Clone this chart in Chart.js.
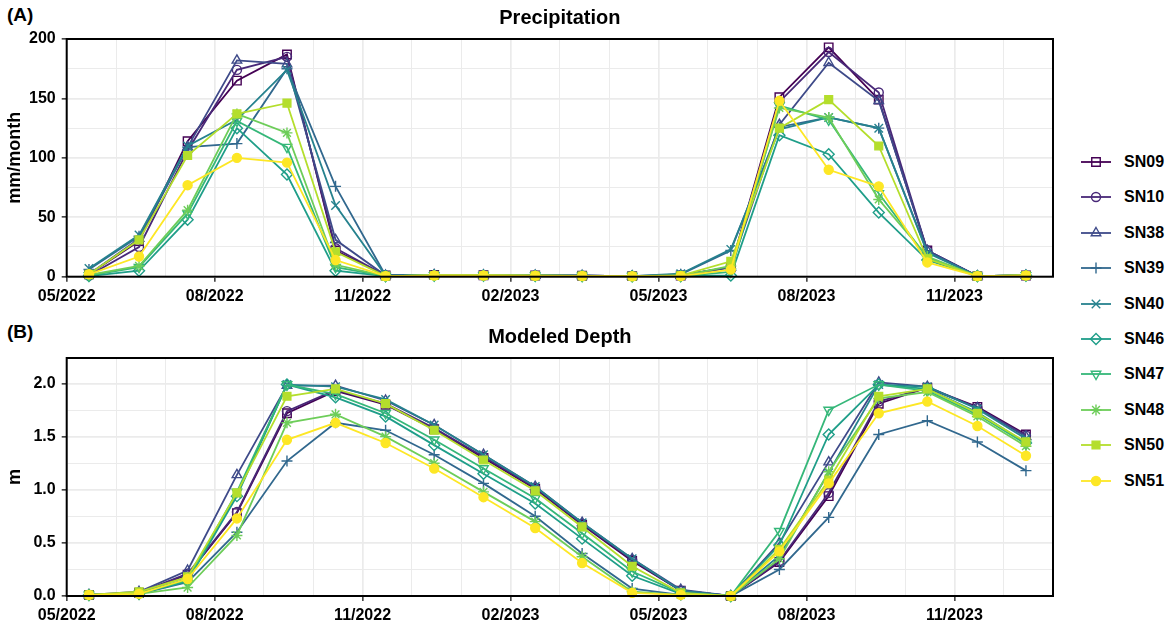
<!DOCTYPE html>
<html>
<head>
<meta charset="utf-8">
<script src="https://cdn.jsdelivr.net/npm/chart.js@4.4.1/dist/chart.umd.min.js"></script>
<style>
  html, body { margin: 0; padding: 0; background: #fff; }
  body { width: 1169px; height: 625px; position: relative; overflow: hidden;
         font-family: "Liberation Sans", Arial, sans-serif; }
  .panel { position: absolute; left: 0; }
  .tag { position: absolute; left: 7px; font-weight: bold; font-size: 19px; line-height: 22px; color: #000; }
  .legend-row { position: absolute; left: 1081px; width: 88px; height: 20px; }
  .legend-row canvas { position: absolute; left: 0; top: 0; }
  .legend-row span { position: absolute; left: 43px; top: 0; font-weight: bold; font-size: 16px;
                     line-height: 20px; color: #000; white-space: nowrap; }
</style>
</head>
<body>
<div class="tag" style="top:4px">(A)</div>
<div class="tag" style="top:321px">(B)</div>
<canvas id="precip" class="panel" style="top:0" width="1060" height="310"></canvas>
<canvas id="depth" class="panel" style="top:310px" width="1060" height="315"></canvas>
<div id="legend"></div>
<script>
// station names and months (points sit mid-month)
const stations = ['SN09', 'SN10', 'SN38', 'SN39', 'SN40', 'SN46', 'SN47', 'SN48', 'SN50', 'SN51'];
const months = ['2022-05-15', '2022-06-15', '2022-07-15', '2022-08-15', '2022-09-15', '2022-10-15',
                '2022-11-15', '2022-12-15', '2023-01-15', '2023-02-15', '2023-03-15', '2023-04-15',
                '2023-05-15', '2023-06-15', '2023-07-15', '2023-08-15', '2023-09-15', '2023-10-15',
                '2023-11-15', '2023-12-15'];
const dateTicks = ['05/2022', '08/2022', '11/2022', '02/2023', '05/2023', '08/2023', '11/2023'];

// precipitation, mm/month
const pSN09 = [2, 30, 114, 165, 187, 22, 1, 1.5, 1.2, 1, 0.8, 0.5, 1, 8, 151, 193, 149, 22, 0.5, 1];
const pSN10 = [1, 25, 106, 174, 185, 24, 1, 1.5, 1.2, 1, 0.8, 0.5, 1, 8, 147, 189, 155, 22, 0.5, 1];
const pSN38 = [2, 32, 109, 182, 179, 31, 1, 1.5, 1.2, 1, 0.8, 0.5, 1, 8, 128, 180, 148, 22, 0.5, 1];
const pSN39 = [6, 34, 109, 112, 175, 76, 1, 1.5, 1.2, 1, 0.8, 0.5, 2, 22, 126, 134, 125, 21, 0.5, 1];
const pSN40 = [7, 35, 110, 132, 174, 60, 1, 1.5, 1.2, 1, 0.8, 0.5, 2.5, 23, 124, 134, 125, 20, 0.5, 1];
const pSN46 = [0.5, 5, 48, 125, 86, 5, 0.5, 1, 1, 0.8, 0.6, 0.4, 0.5, 1, 119, 103, 54, 14, 0.5, 1];
const pSN47 = [1, 8, 53, 131, 109, 8, 0.5, 1, 1, 0.8, 0.6, 0.4, 0.5, 4, 144, 132, 70, 16, 0.5, 1];
const pSN48 = [1.5, 9, 56, 137, 121, 10, 0.5, 1, 1, 0.8, 0.6, 0.4, 0.5, 9, 142, 134, 65, 17, 0.5, 1];
const pSN50 = [2, 31, 102, 137, 146, 21, 0.5, 1, 1, 0.8, 0.6, 0.4, 1, 13, 125, 149, 110, 15, 0.5, 1];
const pSN51 = [2, 17, 77, 100, 96, 14, 0.5, 1, 1, 0.8, 0.6, 0.4, 0.5, 6, 148, 90, 76, 12, 0.5, 1];

// modeled depth, m
const dSN09 = [0.01, 0.03, 0.20, 0.78, 1.72, 1.93, 1.80, 1.57, 1.30, 1.01, 0.67, 0.33, 0.05, 0.00, 0.32, 0.94, 1.81, 1.96, 1.78, 1.52];
const dSN10 = [0.01, 0.03, 0.21, 0.79, 1.74, 1.94, 1.81, 1.58, 1.31, 1.02, 0.68, 0.34, 0.05, 0.00, 0.33, 0.97, 1.83, 1.96, 1.77, 1.51];
const dSN38 = [0.01, 0.04, 0.24, 1.14, 1.98, 1.98, 1.84, 1.61, 1.33, 1.03, 0.69, 0.35, 0.06, 0.00, 0.50, 1.26, 2.01, 1.97, 1.77, 1.50];
const dSN39 = [0.01, 0.02, 0.13, 0.60, 1.27, 1.63, 1.56, 1.33, 1.06, 0.75, 0.40, 0.07, 0.01, 0.00, 0.25, 0.74, 1.52, 1.65, 1.45, 1.18];
const dSN40 = [0.01, 0.03, 0.16, 0.96, 1.99, 1.97, 1.85, 1.61, 1.33, 1.03, 0.69, 0.35, 0.05, 0.00, 0.38, 1.16, 1.99, 1.97, 1.76, 1.48];
const dSN46 = [0.01, 0.02, 0.14, 0.94, 1.99, 1.87, 1.69, 1.42, 1.15, 0.87, 0.54, 0.19, 0.02, 0.00, 0.48, 1.52, 1.99, 1.95, 1.73, 1.44];
const dSN47 = [0.01, 0.02, 0.15, 0.98, 1.99, 1.90, 1.72, 1.47, 1.20, 0.92, 0.59, 0.23, 0.03, 0.00, 0.61, 1.75, 1.99, 1.93, 1.71, 1.43];
const dSN48 = [0.01, 0.02, 0.08, 0.57, 1.63, 1.71, 1.50, 1.25, 0.98, 0.70, 0.37, 0.04, 0.01, 0.00, 0.35, 1.17, 1.86, 1.92, 1.69, 1.41];
const dSN50 = [0.01, 0.04, 0.18, 0.97, 1.88, 1.95, 1.81, 1.56, 1.28, 0.99, 0.65, 0.28, 0.03, 0.00, 0.44, 1.09, 1.88, 1.95, 1.72, 1.45];
const dSN51 = [0.01, 0.02, 0.16, 0.73, 1.47, 1.63, 1.44, 1.20, 0.93, 0.64, 0.31, 0.03, 0.01, 0.00, 0.42, 1.06, 1.72, 1.83, 1.60, 1.32];

const precipSeries = [pSN09, pSN10, pSN38, pSN39, pSN40, pSN46, pSN47, pSN48, pSN50, pSN51];
const depthSeries = [dSN09, dSN10, dSN38, dSN39, dSN40, dSN46, dSN47, dSN48, dSN50, dSN51];

// viridis(10) and ggplot-like shapes
const colors = ['#440154', '#482878', '#3E4A89', '#31688E', '#26828E',
                '#1F9E89', '#35B779', '#6DCD59', '#B4DE2C', '#FDE725'];
const markers = [
  {style: 'rect', r: 6, fill: false},
  {style: 'circle', r: 4.5, fill: false},
  {style: 'triangle', r: 5.5, fill: false},
  {style: 'cross', r: 5.5, fill: false},
  {style: 'crossRot', r: 6, fill: false},
  {style: 'rectRot', r: 5.5, fill: false},
  {style: 'triangle', r: 5.5, rot: 180, fill: false},
  {style: 'star', r: 5.5, fill: false},
  {style: 'rect', r: 5.5, fill: true},
  {style: 'circle', r: 4.5, fill: true}
];

const FONT = '"Liberation Sans", Arial, sans-serif';
const GRID = '#ebebeb';

// months since 2022-05-01, so month starts are integers on the x axis
function monthPos(s) {
  const [y, m, d] = s.split('-').map(Number);
  const days = new Date(y, m, 0).getDate();
  return (y - 2022) * 12 + (m - 5) + (d - 1) / days;
}

function isMajor(v, step) {
  return Math.abs(v / step - Math.round(v / step)) < 1e-6;
}

function makeDatasets(series) {
  return stations.map((name, i) => ({
    label: name,
    data: series[i].map((v, k) => ({x: monthPos(months[k]), y: v})),
    borderColor: colors[i],
    backgroundColor: colors[i],
    borderWidth: 1.8,
    tension: 0,
    pointStyle: markers[i].style,
    pointRadius: markers[i].r,
    pointRotation: markers[i].rot || 0,
    pointBorderColor: colors[i],
    pointBackgroundColor: markers[i].fill ? colors[i] : 'rgba(0,0,0,0)',
    pointBorderWidth: 1.4,
    clip: false,
    order: stations.length - 1 - i
  }));
}

function xAxis(height) {
  return {
    type: 'linear', min: 0, max: 20,
    afterFit: s => { s.height = height; },
    border: {display: false},
    ticks: {
      stepSize: 1, autoSkip: false, maxRotation: 0, padding: 5,
      color: '#000', font: {family: FONT, size: 16, weight: 'bold'},
      callback: v => (isMajor(v, 3) && dateTicks[v / 3]) ? dateTicks[v / 3] : ''
    },
    grid: {
      color: GRID,
      lineWidth: c => (c.tick && isMajor(c.tick.value, 3)) ? 1.7 : 1,
      tickLength: 5, tickWidth: 1.5,
      tickColor: c => (c.tick && isMajor(c.tick.value, 3)) ? '#333' : 'rgba(0,0,0,0)'
    }
  };
}

function yAxis(max, step, major, fmt, title) {
  return {
    min: 0, max: max,
    afterFit: s => { s.width = 66.7; },
    border: {display: false},
    title: {display: true, text: title, color: '#000',
            font: {family: FONT, size: 18, weight: 'bold'}, padding: {top: 4, bottom: 0}},
    ticks: {
      stepSize: step, includeBounds: false, padding: 6,
      color: '#000', font: {family: FONT, size: 16, weight: 'bold'},
      callback: v => isMajor(v, major) ? fmt(v) : ''
    },
    grid: {
      color: GRID,
      lineWidth: c => (c.tick && isMajor(c.tick.value, major)) ? 1.7 : 1,
      tickLength: 5, tickWidth: 1.5,
      tickColor: c => (c.tick && isMajor(c.tick.value, major)) ? '#333' : 'rgba(0,0,0,0)'
    }
  };
}

const framePlugin = {
  id: 'frame',
  afterDatasetsDraw(chart) {
    const {ctx, chartArea: a} = chart;
    ctx.save();
    ctx.strokeStyle = '#000';
    ctx.lineWidth = 2;
    ctx.strokeRect(a.left, a.top, a.right - a.left, a.bottom - a.top);
    ctx.restore();
  }
};

function makeChart(id, title, titlePad, series, xHeight, y) {
  return new Chart(document.getElementById(id), {
    type: 'line',
    data: {datasets: makeDatasets(series)},
    options: {
      responsive: false,
      animation: false,
      layout: {autoPadding: false, padding: {left: 0, right: 7, top: 0, bottom: 0}},
      plugins: {
        legend: {display: false},
        tooltip: {enabled: false},
        title: {display: true, text: title, fullSize: false, color: '#000',
                font: {family: FONT, size: 20, weight: 'bold'}, padding: titlePad}
      },
      scales: {x: xAxis(xHeight), y: y}
    },
    plugins: [framePlugin]
  });
}

makeChart('precip', 'Precipitation', {top: 6, bottom: 9}, precipSeries, 33.3,
          yAxis(200, 25, 50, v => String(v), 'mm/month'));
makeChart('depth', 'Modeled Depth', {top: 15, bottom: 9}, depthSeries, 29,
          yAxis(2.24, 0.25, 0.5, v => v.toFixed(1), 'm'));

// shared legend on the right
const legendBox = document.getElementById('legend');
stations.forEach((name, i) => {
  const row = document.createElement('div');
  row.className = 'legend-row';
  row.style.top = (152 + i * 35.4) + 'px';
  const cv = document.createElement('canvas');
  cv.width = 30; cv.height = 20;
  const c = cv.getContext('2d');
  c.strokeStyle = colors[i];
  c.lineWidth = 1.8;
  c.beginPath(); c.moveTo(0, 10); c.lineTo(30, 10); c.stroke();
  c.fillStyle = markers[i].fill ? colors[i] : 'rgba(0,0,0,0)';
  c.lineWidth = 1.4;
  Chart.helpers.drawPoint(c, {pointStyle: markers[i].style, radius: markers[i].r,
                              rotation: markers[i].rot || 0, borderWidth: 1.4}, 15, 10);
  const label = document.createElement('span');
  label.textContent = name;
  row.appendChild(cv);
  row.appendChild(label);
  legendBox.appendChild(row);
});
</script>
</body>
</html>
